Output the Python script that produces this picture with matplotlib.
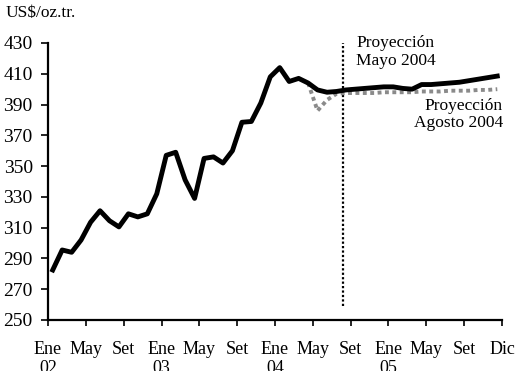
import matplotlib
matplotlib.use("Agg")
import matplotlib.pyplot as plt

# Monthly gold price, Jan 2002 - Dec 2005 (US$ per troy ounce)
# Solid series: history through Apr 2004, then the May 2004 projection
precio_mayo = [
    282.5, 295.5, 294, 302, 313.5, 321, 314.5, 310.5, 319, 317, 319, 332,
    357, 359, 341, 329, 355, 356, 352, 360, 378.5, 379, 391, 408,
    414, 405, 407, 404, 399.5, 398, 398.5, 399.5, 400, 400.5, 401, 401.5,
    401.5, 400.5, 400, 403, 403, 403.5, 404, 404.5, 405.5, 406.5, 407.5, 408.5,
]
# August 2004 projection, starting from Apr 2004
inicio_agosto = 27
precio_agosto = [
    404, 386, 393, 397, 397.5, 397.5, 397.5, 397.5, 398, 398, 398,
    398, 398.5, 398.5, 398.5, 399, 399, 399, 399.5, 399.5, 400,
]
# Date of the August 2004 projection cut (in months since Jan 2002)
corte = 31.2

tick_pos = [0, 4, 8, 12, 16, 20, 24, 28, 32, 36, 40, 44, 48]
tick_labels = ["Ene\n02", "May", "Set", "Ene\n03", "May", "Set", "Ene\n04",
               "May", "Set", "Ene\n05", "May", "Set", "Dic"]
y_ticks = list(range(250, 431, 20))

plt.rcParams["font.family"] = ["Liberation Serif", "DejaVu Serif"]

fig = plt.figure(figsize=(5.16, 3.71), dpi=100)
ax = fig.add_axes([48 / 516, 1 - 320 / 371, 454 / 516, 277 / 371])

x_mayo = [i + 0.5 for i in range(len(precio_mayo))]
x_agosto = [inicio_agosto + i + 0.5 for i in range(len(precio_agosto))]

ax.plot(x_agosto, precio_agosto, color="#8a8a8a", lw=2.8,
        linestyle=(0, (1.0, 0.9)), solid_capstyle="butt", zorder=2)
ax.plot(x_mayo, precio_mayo, color="black", lw=3.5, zorder=3)

ax.plot([corte, corte], [259, 430], color="black", lw=1.6,
        linestyle=(0, (1, 1)), zorder=1)

ax.set_xlim(0, 48)
ax.set_ylim(250, 430)
ax.set_yticks(y_ticks)
ax.set_yticklabels([str(v) for v in y_ticks], fontsize=14)
ax.set_xticks(tick_pos)
ax.set_xticklabels(tick_labels, fontsize=13, linespacing=1.2, va="top")

for s in ("top", "right"):
    ax.spines[s].set_visible(False)
for s in ("left", "bottom"):
    ax.spines[s].set_linewidth(1.6)

ax.tick_params(axis="y", direction="out", length=5, width=1.2, pad=6)
ax.tick_params(axis="x", direction="out", length=4, width=1.2, pad=11)

ax.text(32.6, 435, "Proyección\nMayo 2004", fontsize=12.5, va="top",
        ha="left", linespacing=1.1, clip_on=False)
ax.text(48.1, 394.5, "Proyección\nAgosto 2004", fontsize=12.5, va="top",
        ha="right", multialignment="right", linespacing=1.1, clip_on=False)

fig.text(6 / 516, 1 - 5 / 371, "US$/oz.tr.", fontsize=12.5, va="top", ha="left")

fig.savefig("out.png", dpi=100)
